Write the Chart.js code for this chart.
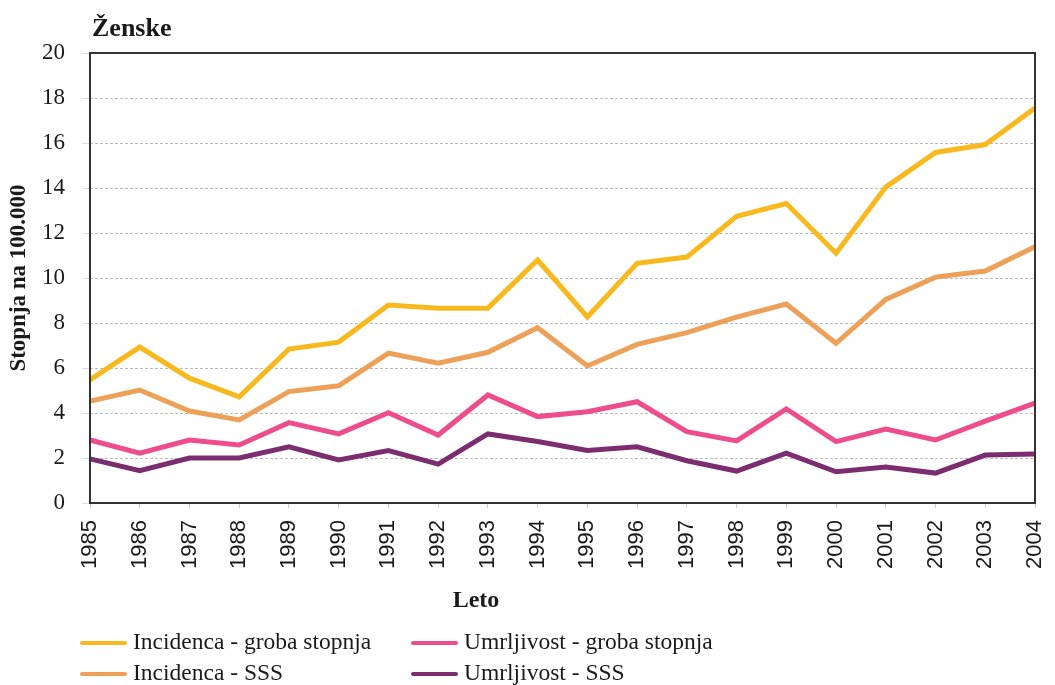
<!DOCTYPE html>
<html>
<head>
<meta charset="utf-8">
<script src="https://cdn.jsdelivr.net/npm/chart.js@4.4.1/dist/chart.umd.min.js"></script>
<style>
  html, body { margin: 0; padding: 0; background: #fff; }
  #wrap { position: relative; width: 1055px; height: 685px; }
  #c { position: absolute; left: 0; top: 0; }
  .leg { position: absolute; font-family: 'Liberation Serif', serif; font-size: 23.5px; color: #1a1a1a; white-space: nowrap; line-height: 26px; }
  .leg span.sw { display: inline-block; width: 47px; height: 4px; border-radius: 2px; vertical-align: middle; margin-right: 6px; position: relative; top: -1px; }
</style>
</head>
<body>
<div id="wrap">
  <canvas id="c" width="1055" height="685"></canvas>
</div>
<script>
const years = ['1985','1986','1987','1988','1989','1990','1991','1992','1993','1994','1995','1996','1997','1998','1999','2000','2001','2002','2003','2004'];
const incidencaGroba = [5.47, 6.93, 5.55, 4.72, 6.84, 7.15, 8.8, 8.66, 8.66, 10.8, 8.27, 10.65, 10.93, 12.74, 13.31, 11.1, 14.04, 15.58, 15.93, 17.56];
const incidencaSSS   = [4.53, 5.02, 4.09, 3.69, 4.95, 5.21, 6.66, 6.21, 6.7, 7.79, 6.09, 7.05, 7.57, 8.26, 8.84, 7.1, 9.05, 10.04, 10.31, 11.39];
const umrljivostGroba = [2.8, 2.22, 2.8, 2.58, 3.57, 3.07, 4.01, 3.02, 4.8, 3.84, 4.06, 4.5, 3.17, 2.76, 4.18, 2.73, 3.29, 2.8, 3.64, 4.44];
const umrljivostSSS   = [1.96, 1.44, 2.0, 2.0, 2.5, 1.91, 2.33, 1.73, 3.07, 2.73, 2.33, 2.5, 1.88, 1.42, 2.22, 1.39, 1.6, 1.33, 2.13, 2.18];
const yTicks = [0, 2, 4, 6, 8, 10, 12, 14, 16, 18, 20];
const seriesLabels = ['Incidenca - groba stopnja', 'Incidenca - SSS', 'Umrljivost - groba stopnja', 'Umrljivost - SSS'];
const seriesColors = ['#F8B91F', '#ECA058', '#EE4D8B', '#7C2D6F'];
const chartTitle = 'Ženske';
const yTitle = 'Stopnja na 100.000';
const xTitle = 'Leto';

const seriesData = [incidencaGroba, incidencaSSS, umrljivostGroba, umrljivostSSS];

const extras = {
  id: 'extras',
  afterDraw(chart) {
    const ctx = chart.ctx, a = chart.chartArea;
    ctx.save();
    ctx.strokeStyle = '#333';
    ctx.lineWidth = 2;
    ctx.strokeRect(a.left, a.top, a.right - a.left, a.bottom - a.top);
    ctx.fillStyle = '#1a1a1a';
    ctx.font = 'bold 26px "Liberation Serif", serif';
    ctx.textBaseline = 'alphabetic';
    ctx.textAlign = 'left';
    ctx.fillText(chartTitle, 92, 36);
    ctx.font = 'bold 24px "Liberation Serif", serif';
    ctx.textAlign = 'center';
    ctx.textBaseline = 'middle';
    ctx.fillText(xTitle, 476, 601);
    ctx.restore();
  }
};

const chart = new Chart(document.getElementById('c'), {
  type: 'line',
  data: {
    labels: years,
    datasets: seriesData.map((d, i) => ({
      label: seriesLabels[i],
      data: d,
      borderColor: seriesColors[i],
      backgroundColor: seriesColors[i],
      borderWidth: 5,
      pointRadius: 0,
      tension: 0,
      fill: false
    }))
  },
  options: {
    responsive: false,
    animation: false,
    layout: { padding: { left: 0, top: 53, right: 0, bottom: 92 } },
    plugins: { legend: { display: false }, title: { display: false }, tooltip: { enabled: false } },
    scales: {
      x: {
        offset: false,
        afterFit(s) { s.height = 90; s.paddingRight = 20; s.paddingLeft = 0; },
        grid: { display: true, drawOnChartArea: false, drawTicks: true, tickLength: 5, tickColor: '#ccc' },
        border: { display: false },
        ticks: {
          minRotation: 90, maxRotation: 90, padding: 12,
          autoSkip: false,
          color: '#1a1a1a',
          font: { family: '"Liberation Sans", Arial, sans-serif', size: 22 }
        }
      },
      y: {
        min: 0, max: 20,
        afterFit(s) { s.width = 90; },
        afterBuildTicks(s) { s.ticks = yTicks.map(v => ({ value: v })); },
        grid: { color: '#bbbbbb', lineWidth: 1, tickLength: 8, tickColor: '#ddd' },
        border: { display: false, dash: [3, 2] },
        ticks: {
          padding: 17,
          color: '#1a1a1a',
          font: { family: '"Liberation Serif", serif', size: 23 }
        },
        title: {
          display: true, text: yTitle, color: '#1a1a1a',
          padding: { top: 5, bottom: 0 },
          font: { family: '"Liberation Serif", serif', size: 23, weight: 'bold' }
        }
      }
    }
  },
  plugins: [extras]
});

// HTML legend built from the chart datasets
const wrap = document.getElementById('wrap');
const legPos = [[80, 628], [80, 659], [411, 628], [411, 659]];
chart.data.datasets.forEach((ds, i) => {
  const d = document.createElement('div');
  d.className = 'leg';
  d.style.left = legPos[i][0] + 'px';
  d.style.top = legPos[i][1] + 'px';
  const sw = document.createElement('span');
  sw.className = 'sw';
  sw.style.background = ds.borderColor;
  d.appendChild(sw);
  d.appendChild(document.createTextNode(ds.label));
  wrap.appendChild(d);
});
</script>
</body>
</html>
